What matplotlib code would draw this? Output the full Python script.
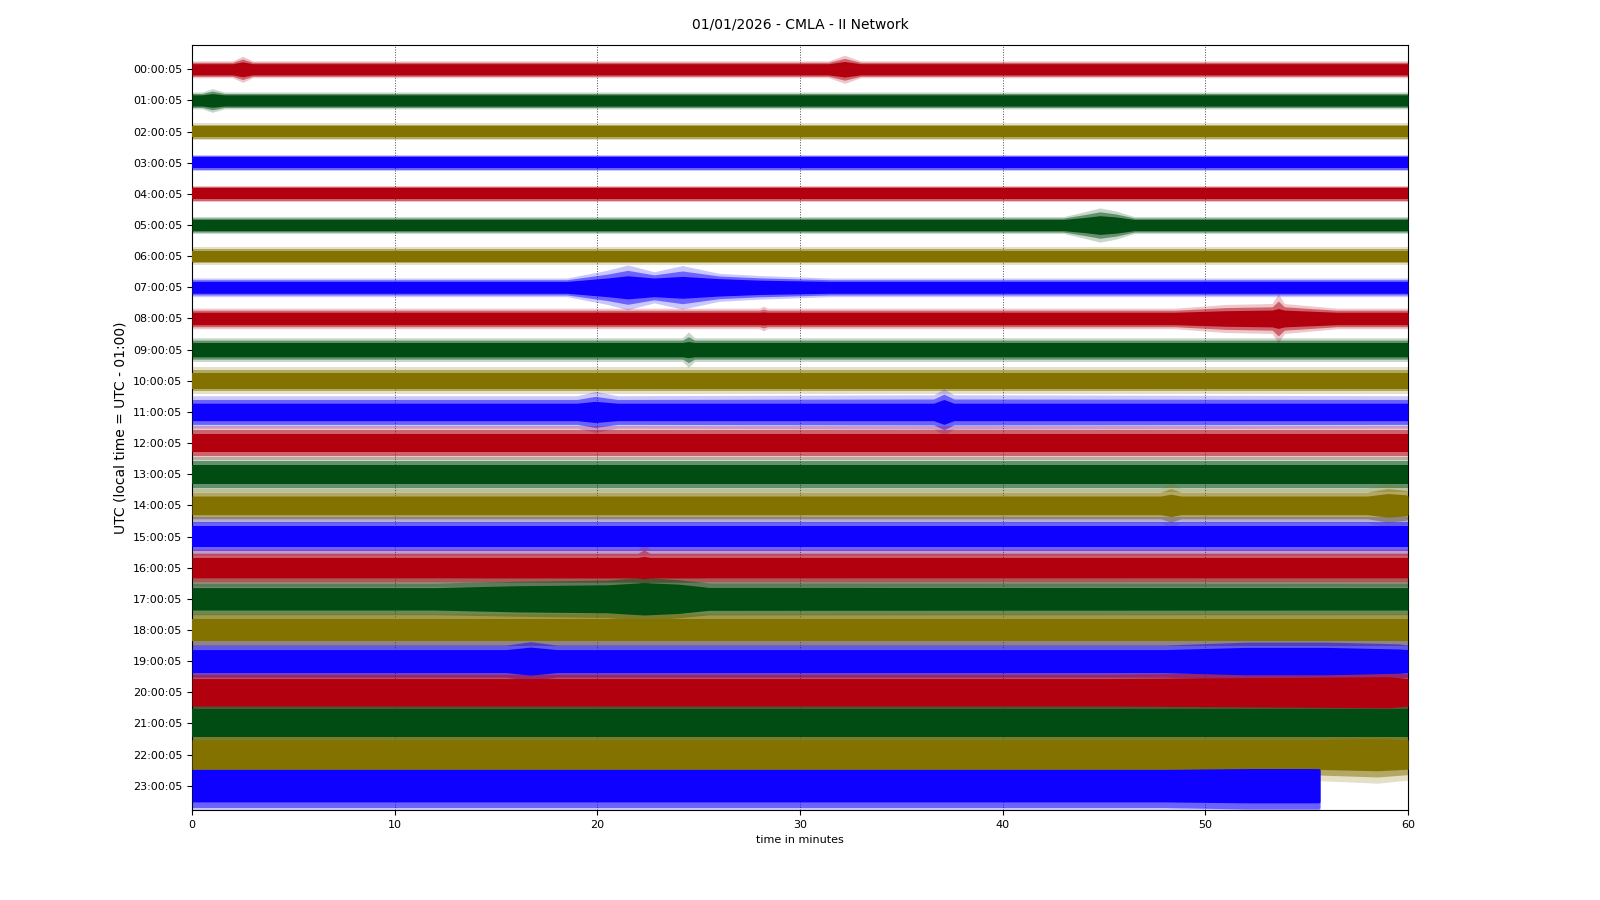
import matplotlib
matplotlib.use("Agg")
import matplotlib.pyplot as plt

# ---------------- data ----------------
hour_labels = ["%02d:00:05" % h for h in range(24)]
trace_colors = ["#B2000F", "#004C12", "#847200", "#0E01FF"]

# trace end (minutes) per row
trace_end = [60] * 23 + [55.66]

# typical band half-width (solid core) and spike extent, in row units
base_core = [0.18, 0.18, 0.18, 0.18, 0.18, 0.18, 0.18, 0.19, 0.20, 0.23, 0.25, 0.28,
             0.30, 0.31, 0.30, 0.34, 0.33, 0.36, 0.36, 0.37, 0.44, 0.45, 0.47, 0.52]
base_peak = [0.27, 0.27, 0.27, 0.26, 0.26, 0.27, 0.28, 0.30, 0.33, 0.38, 0.43, 0.52,
             0.55, 0.56, 0.56, 0.62, 0.60, 0.66, 0.66, 0.66, 0.72, 0.78, 0.82, 0.88]

# envelope knots: row, minute, core half-width, spike half-width
knot_rows = [0, 0, 0, 0, 0, 0,
             1, 1, 1,
             5, 5, 5, 5, 5,
             7, 7, 7, 7, 7, 7, 7, 7,
             8, 8, 8, 8, 8, 8, 8, 8, 8,
             9, 9, 9,
             11, 11, 11, 11, 11, 11,
             14, 14, 14, 14, 14, 14,
             16, 16, 16,
             17, 17, 17, 17, 17, 17,
             19, 19, 19, 19, 19, 19, 19,
             20, 20, 20,
             22, 22,
             23, 23, 23]
knot_minutes = [2.0, 2.5, 3.0, 31.4, 32.2, 33.0,
                0.5, 1.0, 1.6,
                43.0, 44.0, 44.8, 45.6, 46.5,
                18.5, 20.5, 21.5, 22.8, 24.2, 26.0, 28.0, 31.5,
                28.0, 28.2, 28.4, 48.5, 51.0, 53.3, 53.6, 53.9, 56.5,
                24.2, 24.5, 24.8,
                19.0, 19.9, 21.0, 36.6, 37.1, 37.6,
                47.8, 48.3, 48.8, 58.0, 59.0, 59.9,
                22.0, 22.3, 22.6,
                12.0, 16.0, 20.5, 22.3, 24.0, 25.5,
                15.5, 16.7, 18.0, 48.0, 52.0, 56.0, 59.5,
                45.0, 55.0, 59.0,
                55.0, 58.5,
                48.0, 52.0, 55.6]
knot_core = [0.18, 0.24, 0.18, 0.18, 0.25, 0.18,
             0.18, 0.22, 0.18,
             0.18, 0.24, 0.30, 0.26, 0.18,
             0.19, 0.30, 0.37, 0.30, 0.35, 0.28, 0.23, 0.19,
             0.20, 0.21, 0.20, 0.20, 0.25, 0.27, 0.32, 0.27, 0.20,
             0.23, 0.26, 0.23,
             0.28, 0.34, 0.28, 0.28, 0.40, 0.28,
             0.30, 0.36, 0.30, 0.30, 0.38, 0.34,
             0.33, 0.36, 0.33,
             0.36, 0.42, 0.45, 0.52, 0.47, 0.37,
             0.37, 0.45, 0.37, 0.37, 0.44, 0.44, 0.39,
             0.44, 0.48, 0.50,
             0.47, 0.52,
             0.52, 0.55, 0.55]
knot_peak = [0.27, 0.42, 0.27, 0.27, 0.45, 0.27,
             0.27, 0.38, 0.27,
             0.27, 0.42, 0.55, 0.45, 0.27,
             0.30, 0.55, 0.72, 0.50, 0.70, 0.45, 0.38, 0.30,
             0.33, 0.40, 0.33, 0.33, 0.45, 0.48, 0.80, 0.48, 0.33,
             0.38, 0.57, 0.38,
             0.52, 0.66, 0.52, 0.55, 0.74, 0.55,
             0.56, 0.72, 0.56, 0.56, 0.70, 0.62,
             0.60, 0.78, 0.60,
             0.66, 0.70, 0.75, 0.88, 0.75, 0.66,
             0.66, 0.80, 0.66, 0.66, 0.78, 0.78, 0.72,
             0.72, 0.80, 0.84,
             0.82, 0.92,
             0.88, 0.95, 0.95]

# ---------------- drawing ----------------
fig = plt.figure(figsize=(16, 9), dpi=100)
fig.subplots_adjust(left=0.12, right=0.88, top=0.95, bottom=0.10)
ax = fig.add_subplot(111)

for row in range(24):
    xs = [0.0]
    cs = [base_core[row]]
    ps = [base_peak[row]]
    pts = sorted((m, c, p) for r, m, c, p in zip(knot_rows, knot_minutes, knot_core, knot_peak) if r == row)
    for m, c, p in pts:
        xs.append(m)
        cs.append(c)
        ps.append(p)
    if xs[-1] < trace_end[row]:
        xs.append(trace_end[row])
        cs.append(base_core[row])
        ps.append(base_peak[row])
    color = trace_colors[row % 4]
    ms = [(c + p) / 2 for c, p in zip(cs, ps)]
    ax.fill_between(xs, [row - p for p in ps], [row + p for p in ps],
                    color=color, alpha=0.22, linewidth=0, zorder=2)
    ax.fill_between(xs, [row - m for m in ms], [row + m for m in ms],
                    color=color, alpha=0.5, linewidth=0, zorder=2)
    ax.fill_between(xs, [row - c for c in cs], [row + c for c in cs],
                    color=color, linewidth=0, zorder=3)

ax.set_xlim(0, 60)
ax.set_ylim(23.78, -0.78)
ax.set_xticks(range(0, 61, 10))
ax.set_yticks(range(24))
ax.set_yticklabels(hour_labels)
ax.tick_params(axis="both", labelsize=8)
ax.xaxis.grid(True, linestyle=":", color="0.3", linewidth=0.7, zorder=1)
ax.set_axisbelow(True)
ax.set_xlabel("time in minutes", fontsize=8)
ax.set_ylabel("UTC (local time = UTC - 01:00)", fontsize=10)
fig.suptitle("01/01/2026 - CMLA - II Network", fontsize=10)

fig.savefig("out.png", dpi=100)
